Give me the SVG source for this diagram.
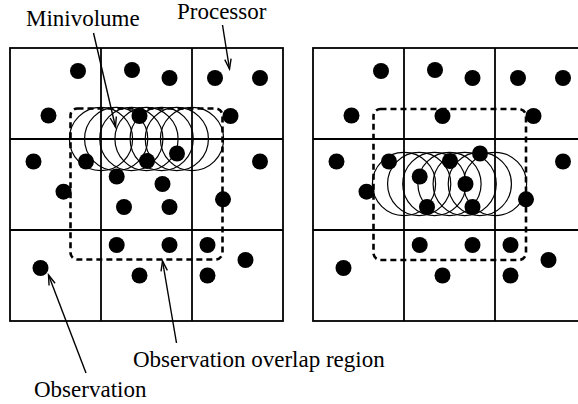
<svg xmlns="http://www.w3.org/2000/svg" width="578" height="404" viewBox="0 0 578 404">
  <style>
    .grid { fill: none; stroke: #000; stroke-width: 1.8; }
    .dot { fill: #000; }
    .mv { fill: none; stroke: #000; stroke-width: 1.2; }
    .overlap { fill: none; stroke: #000; stroke-width: 2.6; stroke-dasharray: 6 4; }
    .lbl { font-family: "Liberation Serif", "Times New Roman", serif; font-size: 23px; fill: #000; }
    .lead { stroke: #000; stroke-width: 1.4; fill: none; marker-end: url(#vhead); }
  </style>
  <defs>
    <marker id="vhead" markerUnits="userSpaceOnUse" viewBox="-12 -5 14 10" refX="0" refY="0" markerWidth="14" markerHeight="10" orient="auto">
      <path d="M-10,-3.2 L0,0 L-10,3.2" fill="none" stroke="#000" stroke-width="1.4"/>
    </marker>
    <!-- processor grid, 3x3 cells of 91 px -->
    <g id="procGrid">
      <rect class="grid" x="0" y="0" width="273" height="273"/>
      <line class="grid" x1="91" y1="0" x2="91" y2="273"/>
      <line class="grid" x1="182" y1="0" x2="182" y2="273"/>
      <line class="grid" x1="0" y1="91" x2="273" y2="91"/>
      <line class="grid" x1="0" y1="182" x2="273" y2="182"/>
    </g>
    <!-- observation locations, relative to grid origin -->
    <g id="obs">
      <circle class="dot" cx="68" cy="23" r="8"/>
      <circle class="dot" cx="122" cy="22" r="8"/>
      <circle class="dot" cx="159.5" cy="30" r="8"/>
      <circle class="dot" cx="205" cy="30" r="8"/>
      <circle class="dot" cx="250" cy="30" r="8"/>
      <circle class="dot" cx="38.5" cy="67.5" r="8"/>
      <circle class="dot" cx="129.5" cy="68" r="8"/>
      <circle class="dot" cx="220.5" cy="68" r="8"/>
      <circle class="dot" cx="23.5" cy="113.5" r="8"/>
      <circle class="dot" cx="76" cy="113.5" r="8"/>
      <circle class="dot" cx="137" cy="113" r="8"/>
      <circle class="dot" cx="167" cy="105.5" r="8"/>
      <circle class="dot" cx="250" cy="113.5" r="8"/>
      <circle class="dot" cx="106.7" cy="128.5" r="8"/>
      <circle class="dot" cx="152.5" cy="136" r="8"/>
      <circle class="dot" cx="53.5" cy="143.7" r="8"/>
      <circle class="dot" cx="114" cy="159" r="8"/>
      <circle class="dot" cx="159.5" cy="159" r="8"/>
      <circle class="dot" cx="213" cy="151.3" r="8"/>
      <circle class="dot" cx="106.7" cy="197" r="8"/>
      <circle class="dot" cx="159.5" cy="197" r="8"/>
      <circle class="dot" cx="197.5" cy="197" r="8"/>
      <circle class="dot" cx="235.5" cy="212" r="8"/>
      <circle class="dot" cx="30.5" cy="220" r="8"/>
      <circle class="dot" cx="129.5" cy="227.5" r="8"/>
      <circle class="dot" cx="197.5" cy="227.5" r="8"/>
    </g>
    <!-- row of overlapping minivolumes, centred on its first circle -->
    <g id="minivols">
      <circle class="mv" cx="0" cy="0" r="31.6"/>
      <circle class="mv" cx="15.17" cy="0" r="31.6"/>
      <circle class="mv" cx="30.33" cy="0" r="31.6"/>
      <circle class="mv" cx="45.5" cy="0" r="31.6"/>
      <circle class="mv" cx="60.67" cy="0" r="31.6"/>
      <circle class="mv" cx="75.83" cy="0" r="31.6"/>
      <circle class="mv" cx="91" cy="0" r="31.6"/>
    </g>
  </defs>

  <!-- left decomposition -->
  <g id="panel-left">
    <use href="#procGrid" x="10" y="48"/>
    <use href="#minivols" x="101" y="139"/>
    <rect class="overlap" x="70.5" y="108.5" width="152" height="151" rx="7"/>
    <use href="#obs" x="10" y="48"/>
  </g>

  <!-- right decomposition -->
  <g id="panel-right">
    <use href="#procGrid" x="313" y="48"/>
    <use href="#minivols" x="404" y="184"/>
    <rect class="overlap" x="373.5" y="109" width="152.5" height="151" rx="7"/>
    <use href="#obs" x="313" y="48"/>
  </g>

  <!-- labels -->
  <g id="label-minivolume">
    <text class="lbl" x="26" y="26">Minivolume</text>
  </g>
  <g id="label-processor">
    <text class="lbl" x="177" y="18.5">Processor</text>
  </g>
  <g id="label-overlap">
    <text class="lbl" x="133" y="366.5">Observation overlap region</text>
  </g>
  <g id="label-observation">
    <text class="lbl" x="34" y="397">Observation</text>
  </g>

  <!-- leader arrows -->
  <g id="connectors">
    <line class="lead" x1="93.5" y1="33" x2="115.5" y2="127"/>
    <line class="lead" x1="222.5" y1="25" x2="229.5" y2="69"/>
    <line class="lead" x1="86" y1="373" x2="48.5" y2="275"/>
    <line class="lead" x1="176.5" y1="343" x2="162.5" y2="261"/>
  </g>
</svg>
